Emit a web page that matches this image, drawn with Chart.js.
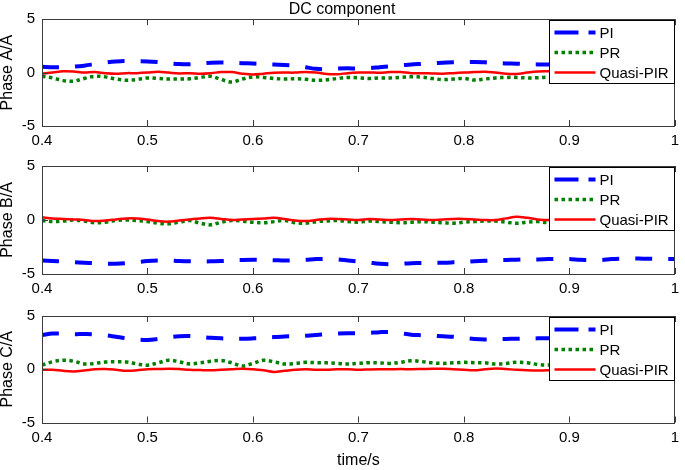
<!DOCTYPE html>
<html><head><meta charset="utf-8">
<script src="https://cdn.jsdelivr.net/npm/chart.js@4/dist/chart.umd.min.js"></script>
<style>
html,body{margin:0;padding:0;background:#fff;width:685px;height:470px;overflow:hidden}
.p{position:absolute;left:0;width:685px}
canvas{display:block}
</style></head><body>
<div class="p" style="top:0;height:152px"><canvas id="c1" width="685" height="152"></canvas></div>
<div class="p" style="top:150px;height:150px"><canvas id="c2" width="685" height="150"></canvas></div>
<div class="p" style="top:300px;height:170px"><canvas id="c3" width="685" height="170"></canvas></div>
<script>
const times = [0.40,0.41,0.42,0.43,0.44,0.45,0.46,0.47,0.48,0.49,0.50,0.51,0.52,0.53,0.54,0.55,0.56,0.57,0.58,0.59,0.60,0.61,0.62,0.63,0.64,0.65,0.66,0.67,0.68,0.69,0.70,0.71,0.72,0.73,0.74,0.75,0.76,0.77,0.78,0.79,0.80,0.81,0.82,0.83,0.84,0.85,0.86,0.87,0.88,0.89,0.90,0.91,0.92,0.93,0.94,0.95,0.96,0.97,0.98,0.99,1.00];
const seriesNames = ['PI','PR','Quasi-PIR'];
const panelTitles = ['Phase A/A','Phase B/A','Phase C/A'];
const chartTitle = 'DC component';
const xAxisTitle = 'time/s';
const xTickValues = [0.4,0.5,0.6,0.7,0.8,0.9,1.0];
const xTickLabels = ['0.4','0.5','0.6','0.7','0.8','0.9','1'];
const yTickValues = [-5,0,5];
const yTickLabels = ['-5','0','5'];

const piA = [0.55,0.5,0.5,0.55,0.65,0.8,0.95,1.05,1.1,1.08,1.05,0.98,0.88,0.8,0.78,0.85,0.93,0.95,0.92,0.88,0.85,0.8,0.75,0.72,0.65,0.5,0.35,0.32,0.38,0.4,0.38,0.42,0.5,0.58,0.68,0.76,0.82,0.88,0.93,0.96,0.98,1.0,0.96,0.9,0.86,0.84,0.8,0.77,0.76,0.75,0.72,0.7,0.7,0.72,0.76,0.8,0.82,0.8,0.78,0.8,0.82];
const prA = [-0.35,-0.5,-0.75,-0.8,-0.55,-0.35,-0.4,-0.6,-0.72,-0.65,-0.5,-0.55,-0.6,-0.6,-0.58,-0.45,-0.35,-0.65,-0.88,-0.6,-0.4,-0.45,-0.55,-0.6,-0.58,-0.62,-0.72,-0.68,-0.55,-0.45,-0.5,-0.55,-0.5,-0.5,-0.45,-0.38,-0.42,-0.55,-0.65,-0.6,-0.55,-0.7,-0.6,-0.5,-0.45,-0.45,-0.5,-0.48,-0.42,-0.4,-0.45,-0.5,-0.45,-0.4,-0.38,-0.42,-0.48,-0.45,-0.4,-0.38,-0.4];
const qpA = [-0.1,0.0,0.12,0.1,0.0,0.05,-0.05,-0.1,-0.05,-0.05,0.0,0.08,0.0,-0.08,-0.05,-0.1,-0.05,0.05,0.05,-0.1,-0.18,-0.1,-0.02,0.0,0.0,0.05,0.0,-0.12,-0.15,-0.05,0.0,0.02,-0.02,0.05,0.05,-0.05,-0.05,-0.08,-0.1,-0.05,0.0,0.05,0.08,0.0,-0.1,-0.12,0.0,0.1,0.12,0.05,0.0,-0.05,0.0,0.05,0.02,-0.02,0.0,0.05,0.1,0.08,0.05];
const piB = [-3.75,-3.8,-3.85,-3.9,-3.95,-4.0,-4.05,-4.05,-4.0,-3.9,-3.8,-3.75,-3.75,-3.8,-3.82,-3.85,-3.82,-3.8,-3.75,-3.7,-3.68,-3.7,-3.72,-3.75,-3.72,-3.68,-3.62,-3.6,-3.65,-3.75,-3.85,-3.95,-4.05,-4.1,-4.05,-4.0,-3.98,-3.95,-3.95,-3.92,-3.88,-3.82,-3.78,-3.72,-3.7,-3.68,-3.65,-3.65,-3.62,-3.6,-3.62,-3.68,-3.72,-3.7,-3.62,-3.58,-3.55,-3.58,-3.6,-3.6,-3.6];
const prB = [-0.05,-0.15,-0.1,0.0,-0.1,-0.25,-0.2,-0.05,0.0,-0.05,-0.15,-0.3,-0.35,-0.2,-0.05,-0.3,-0.45,-0.2,-0.05,-0.1,-0.2,-0.25,-0.15,-0.05,-0.25,-0.3,-0.15,-0.1,-0.05,-0.15,-0.2,-0.1,-0.15,-0.2,-0.25,-0.2,-0.15,-0.2,-0.25,-0.3,-0.2,-0.15,-0.1,-0.1,-0.2,-0.3,-0.2,-0.15,-0.25,-0.2,-0.1,-0.15,-0.2,-0.1,-0.05,-0.15,-0.2,-0.1,-0.05,-0.1,-0.1];
const qpB = [0.25,0.15,0.1,0.05,0.0,-0.1,-0.05,0.05,0.15,0.15,0.05,-0.1,-0.15,-0.05,0.05,0.15,0.2,0.1,0.0,0.05,0.1,0.15,0.2,0.1,-0.05,-0.1,0.0,0.1,0.1,0.05,0.0,0.1,0.05,0.0,0.05,0.1,0.05,0.0,0.05,0.1,0.1,0.05,0.0,0.0,0.15,0.3,0.2,0.05,0.0,0.05,0.1,0.05,0.0,0.05,0.1,0.12,0.08,0.05,0.1,0.12,0.1];
const piC = [3.2,3.35,3.35,3.3,3.3,3.28,3.2,3.05,2.9,2.8,2.75,2.85,3.0,3.1,3.12,3.05,2.95,2.9,2.88,2.87,2.9,2.95,3.02,3.08,3.1,3.15,3.22,3.3,3.35,3.38,3.38,3.42,3.48,3.5,3.38,3.25,3.2,3.15,3.1,3.05,2.95,2.85,2.8,2.82,2.85,2.87,2.88,2.9,2.92,2.95,2.9,2.88,2.85,2.85,2.85,2.9,2.95,3.0,3.0,3.02,3.05];
const prC = [0.4,0.7,0.85,0.75,0.5,0.55,0.68,0.7,0.68,0.5,0.38,0.6,0.85,0.7,0.5,0.6,0.75,0.82,0.6,0.3,0.55,0.85,0.7,0.5,0.55,0.65,0.62,0.6,0.55,0.5,0.55,0.62,0.6,0.55,0.65,0.8,0.72,0.6,0.55,0.6,0.65,0.62,0.6,0.5,0.55,0.65,0.6,0.45,0.4,0.5,0.55,0.6,0.55,0.5,0.55,0.6,0.55,0.5,0.55,0.58,0.55];
const qpC = [-0.05,-0.05,-0.15,-0.2,-0.12,0.0,0.02,-0.05,-0.15,-0.1,0.0,0.02,0.05,0.02,-0.05,-0.08,-0.1,-0.05,0.0,0.05,0.0,-0.1,-0.25,-0.15,-0.05,0.0,-0.05,-0.05,0.0,0.0,-0.05,-0.02,0.0,0.0,0.02,0.0,0.02,0.05,0.05,0.0,-0.05,-0.1,0.0,0.08,0.02,-0.05,-0.1,-0.12,-0.1,-0.05,-0.05,0.0,0.02,-0.02,-0.05,-0.05,0.0,-0.02,-0.05,-0.05,-0.05];

const FONT = "'Liberation Sans', Arial, Helvetica, sans-serif";
const styles = [
  {color:'#0000ff', width:4, dash:[17,16]},
  {color:'#008000', width:3.5, dash:[3.5,3.5]},
  {color:'#ff0000', width:2.5, dash:[]}
];

const framePlugin = {
  id:'frame',
  afterDatasetsDraw(chart){
    const ctx = chart.ctx, a = chart.chartArea, xs = chart.scales.x, ys = chart.scales.y;
    ctx.save();
    ctx.strokeStyle = '#3a3a3a'; ctx.lineWidth = 1; ctx.setLineDash([]);
    ctx.beginPath();
    xTickValues.forEach(v => { const px = Math.round(xs.getPixelForValue(v))+0.5;
      ctx.moveTo(px, a.bottom); ctx.lineTo(px, a.bottom-6);
      ctx.moveTo(px, a.top); ctx.lineTo(px, a.top+6); });
    yTickValues.forEach(v => { const py = Math.round(ys.getPixelForValue(v))+0.5;
      ctx.moveTo(a.left, py); ctx.lineTo(a.left+6, py);
      ctx.moveTo(a.right, py); ctx.lineTo(a.right-6, py); });
    ctx.stroke();
    ctx.strokeRect(Math.round(a.left)+0.5, Math.round(a.top)+0.5, Math.round(a.right-a.left)-1, Math.round(a.bottom-a.top));
    // legend
    const w = 125, h = 63;
    const lx = Math.round(a.right) - w - 1 + 0.5, ly = Math.round(a.top) + 1.5;
    ctx.fillStyle = '#fff'; ctx.fillRect(lx, ly, w, h);
    ctx.strokeStyle = '#000'; ctx.strokeRect(lx, ly, w, h);
    ctx.font = '15px ' + FONT; ctx.textBaseline = 'middle'; ctx.textAlign = 'left';
    chart.data.datasets.slice().sort((p,q)=>q.order-p.order).forEach((ds, i) => {
      const ry = ly + 12 + i*20;
      ctx.strokeStyle = ds.borderColor; ctx.lineWidth = ds.borderWidth;
      ctx.setLineDash(i===0 ? [24,10] : ds.borderDash); ctx.lineCap = 'butt';
      ctx.beginPath(); ctx.moveTo(lx+5, ry); ctx.lineTo(lx+46, ry); ctx.stroke();
      ctx.setLineDash([]); ctx.fillStyle = '#000';
      ctx.fillText(ds.label, lx+50, ry+1);
    });
    ctx.restore();
  }
};

function makeChart(id, yTitle, vals, cfg){
  const datasets = vals.map((arr, i) => ({
    label: seriesNames[i],
    data: times.map((t, k) => ({x:t, y:arr[k]})),
    borderColor: styles[i].color, borderWidth: styles[i].width, borderDash: styles[i].dash,
    pointRadius: 0, tension: 0.35, fill: false, order: 3 - i
  }));
  return new Chart(document.getElementById(id), {
    type:'line',
    data:{datasets},
    plugins:[framePlugin],
    options:{
      responsive:false, devicePixelRatio:1, animation:false,
      layout:{padding:{top:cfg.padTop, right:1, left:0, bottom:0}},
      plugins:{
        legend:{display:false}, tooltip:{enabled:false},
        title:{display:!!cfg.title, text:cfg.title||'', color:'#000', font:{family:FONT, size:16, weight:'normal'}, padding:{top:0,bottom:0}}
      },
      scales:{
        x:{type:'linear', min:0.4, max:1.0,
          afterBuildTicks: s => { s.ticks = xTickValues.map(v => ({value:v})); },
          afterFit: s => { s.height = cfg.xh; },
          grid:{display:false, drawTicks:false}, border:{display:false},
          ticks:{color:'#000', font:{family:FONT, size:15}, padding:6, maxRotation:0, autoSkip:false,
            callback:(v) => xTickLabels[xTickValues.findIndex(t => Math.abs(t - v) < 1e-6)]},
          title:{display:!!cfg.xTitle, text:cfg.xTitle||'', color:'#000', font:{family:FONT, size:16}, padding:{top:0,bottom:0}}
        },
        y:{type:'linear', min:-5, max:5,
          afterBuildTicks: s => { s.ticks = yTickValues.map(v => ({value:v})); },
          afterFit: s => { s.width = 42; },
          grid:{display:false, drawTicks:false}, border:{display:false},
          ticks:{color:'#000', font:{family:FONT, size:15}, padding:7,
            callback:(v) => yTickLabels[yTickValues.indexOf(v)]},
          title:{display:true, text:yTitle, color:'#000', font:{family:FONT, size:16, lineHeight:1}, padding:{top:0,bottom:0}}
        }
      }
    }
  });
}

makeChart('c1', panelTitles[0], [piA, prA, qpA], {padTop:0, xh:26, title:chartTitle});
makeChart('c2', panelTitles[1], [piB, prB, qpB], {padTop:16, xh:26});
makeChart('c3', panelTitles[2], [piC, prC, qpC], {padTop:15, xh:47.5, xTitle:xAxisTitle});
</script>
</body></html>
